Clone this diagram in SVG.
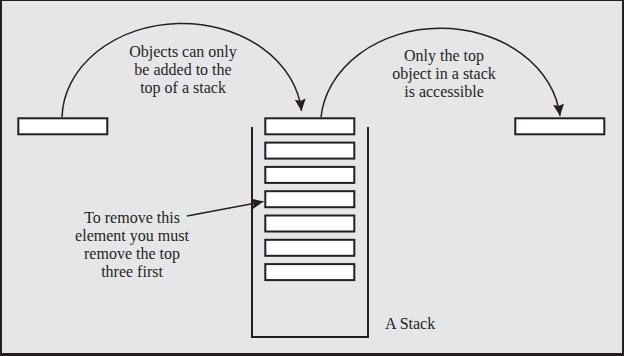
<svg xmlns="http://www.w3.org/2000/svg" width="624" height="356" viewBox="0 0 624 356">
  <style>
    .box { fill: #ffffff; stroke: #231f20; stroke-width: 2; }
    .wall { fill: none; stroke: #231f20; stroke-width: 2; }
    .conn { fill: none; stroke: #231f20; stroke-width: 1.5; }
    .lbl { font-family: "Liberation Serif", "Times New Roman", serif; font-size: 16px; fill: #231f20; text-anchor: middle; }
    .lbl-start { text-anchor: start; }
  </style>
  <defs>
    <marker id="arrow" markerUnits="userSpaceOnUse" markerWidth="16" markerHeight="14" refX="12" refY="5.5" orient="auto">
      <path d="M0,0 L12,5.5 L0,11 L2,5.5 Z" fill="#231f20"/>
    </marker>
  </defs>

  <rect x="0" y="0" width="624" height="356" fill="#231f20"/>
  <rect x="2" y="1" width="620" height="352" fill="#e6e6e8"/>

  <g id="source-box">
    <rect class="box" x="18.3" y="118.3" width="89" height="16"/>
  </g>

  <g id="stack">
    <path class="wall" d="M252,127 V337 H368 V127"/>
    <g id="stack-item-1"><rect class="box" x="265.3" y="118.3" width="89" height="16"/></g>
    <g id="stack-item-2"><rect class="box" x="265.3" y="142.6" width="89" height="16"/></g>
    <g id="stack-item-3"><rect class="box" x="265.3" y="166.9" width="89" height="16"/></g>
    <g id="stack-item-4"><rect class="box" x="265.3" y="191.2" width="89" height="16"/></g>
    <g id="stack-item-5"><rect class="box" x="265.3" y="215.5" width="89" height="16"/></g>
    <g id="stack-item-6"><rect class="box" x="265.3" y="239.8" width="89" height="16"/></g>
    <g id="stack-item-7"><rect class="box" x="265.3" y="264.1" width="89" height="16"/></g>
    <text class="lbl lbl-start" x="385" y="329">A Stack</text>
  </g>

  <g id="target-box">
    <rect class="box" x="515.3" y="118.3" width="89" height="16"/>
  </g>

  <g id="connectors">
    <path class="conn" d="M62,117 A120,96 0 0 1 301.5,111" marker-end="url(#arrow)"/>
    <path class="conn" d="M321,117 A120,97 0 0 1 560,116" marker-end="url(#arrow)"/>
    <path class="conn" d="M187,216 L263.5,201.5" marker-end="url(#arrow)"/>
  </g>

  <g id="label-push">
    <text class="lbl" x="183" y="57">Objects can only</text>
    <text class="lbl" x="183" y="75">be added to the</text>
    <text class="lbl" x="183" y="93">top of a stack</text>
  </g>

  <g id="label-pop">
    <text class="lbl" x="444" y="61">Only the top</text>
    <text class="lbl" x="444" y="79">object in a stack</text>
    <text class="lbl" x="444" y="97">is accessible</text>
  </g>

  <g id="label-remove">
    <text class="lbl" x="132" y="223">To remove this</text>
    <text class="lbl" x="132" y="241">element you must</text>
    <text class="lbl" x="132" y="259">remove the top</text>
    <text class="lbl" x="132" y="277">three first</text>
  </g>
</svg>
